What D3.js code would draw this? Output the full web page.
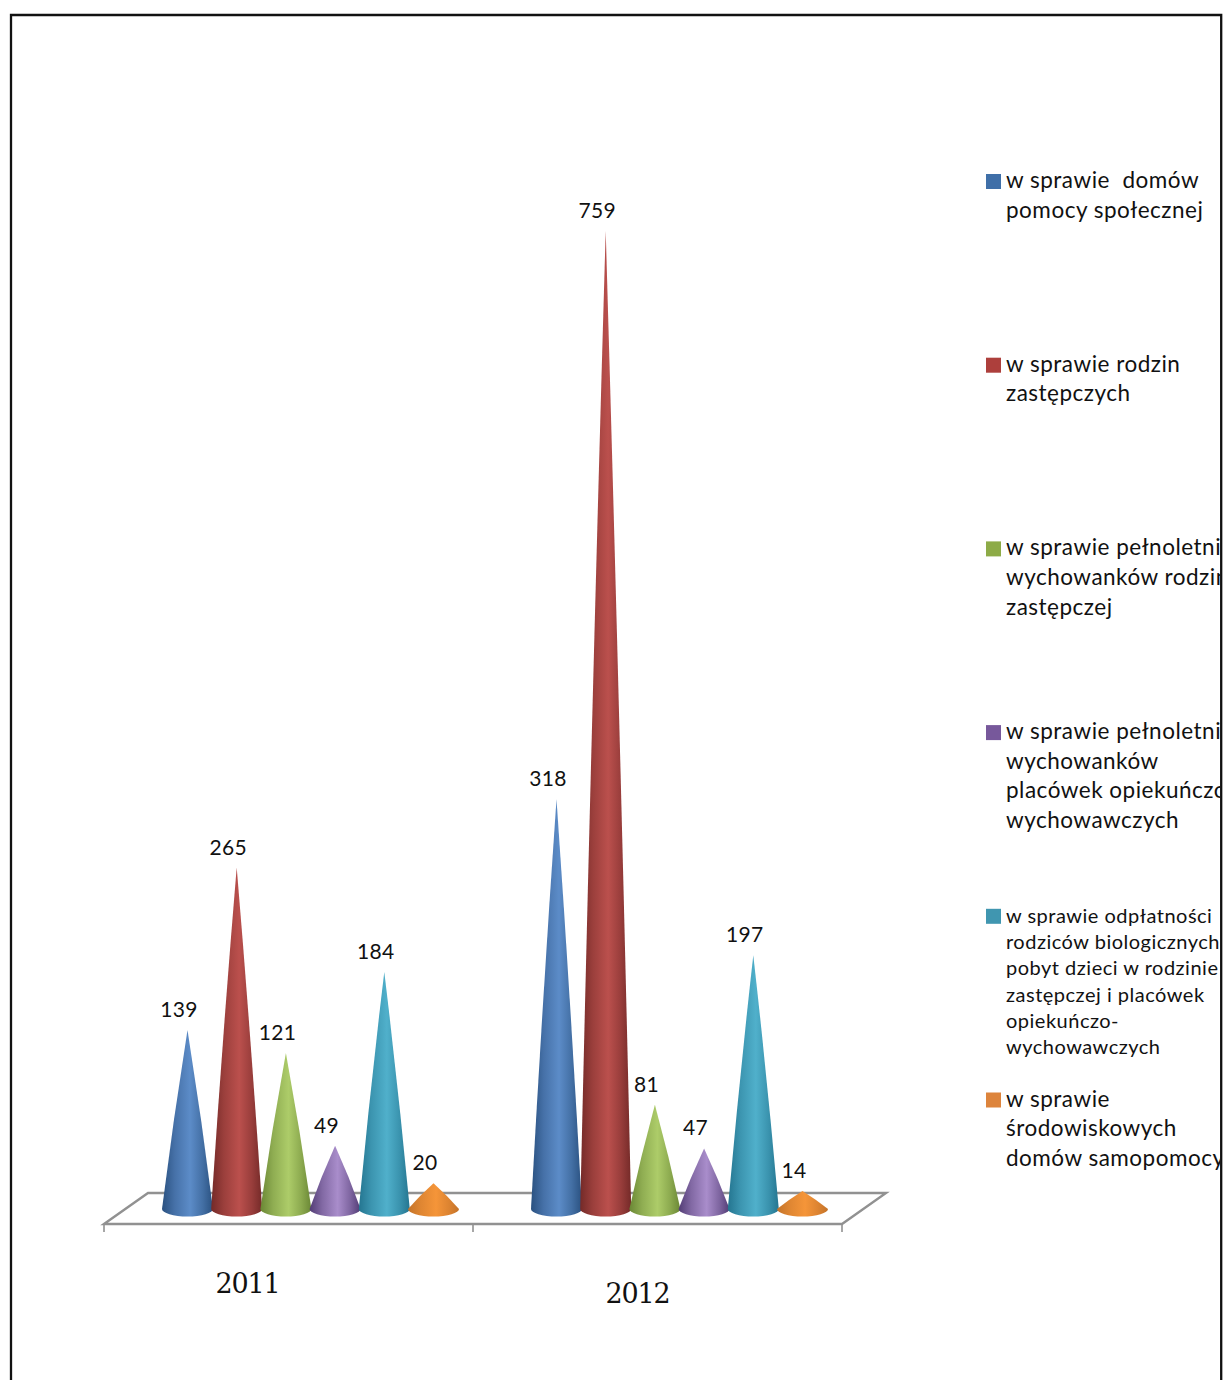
<!DOCTYPE html>
<html><head><meta charset="utf-8">
<script src="https://d3js.org/d3.v7.min.js"></script>
<style>html,body{margin:0;padding:0;background:#fff}svg{display:block}text{font-family:Lato,"Noto Sans",sans-serif;fill:#111;white-space:pre}</style>
</head><body><div id="chart"></div>
<script>
const years = ["2011", "2012"];
const seriesKeys = ["dps", "rodziny", "pelnRodz", "pelnPlac", "odplatnosc", "sds"];
const values2011 = [139, 265, 121, 49, 184, 20];
const values2012 = [318, 759, 81, 47, 197, 14];
const legendLines = [
  ["w sprawie  domów", "pomocy społecznej"],
  ["w sprawie rodzin", "zastępczych"],
  ["w sprawie pełnoletnich", "wychowanków rodziny", "zastępczej"],
  ["w sprawie pełnoletnich", "wychowanków", "placówek opiekuńczo-", "wychowawczych"],
  ["w sprawie odpłatności", "rodziców biologicznych", "pobyt dzieci w rodzinie", "zastępczej i placówek", "opiekuńczo-", "wychowawczych"],
  ["w sprawie", "środowiskowych", "domów samopomocy"]
];
const swatchColors = ["#3f6fa8", "#ad3f3c", "#8dab47", "#77589b", "#4096b0", "#dd843c"];
const edgeColors = ["#2a5180", "#742a28", "#6a8735", "#523c75", "#247590", "#c47329"];
const lightColors = ["#5c8cc8", "#bb504d", "#adcc69", "#a98dcb", "#50b0cb", "#f59539"];

const W = 1225, H = 1380;
const svg = d3.select("#chart").append("svg").attr("width", W).attr("height", H);
const defs = svg.append("defs");
seriesKeys.forEach((k, i) => {
  const g = defs.append("linearGradient").attr("id", "g" + i);
  const mix = d3.interpolateRgb(edgeColors[i], lightColors[i]);
  g.append("stop").attr("offset", "0%").attr("stop-color", edgeColors[i]);
  g.append("stop").attr("offset", "25%").attr("stop-color", mix(0.55));
  g.append("stop").attr("offset", "55%").attr("stop-color", lightColors[i]);
  g.append("stop").attr("offset", "80%").attr("stop-color", mix(0.5));
  g.append("stop").attr("offset", "100%").attr("stop-color", edgeColors[i]);
});
defs.append("clipPath").attr("id", "legendClip").append("rect").attr("x", 0).attr("y", 0).attr("width", 1220).attr("height", H);

// Frame
svg.append("path").attr("d", `M11,${H + 5}V15H1221.2V${H + 5}`).attr("fill", "none").attr("stroke", "#111").attr("stroke-width", 2.3);

// Scales
const y = d3.scaleLinear().domain([0, 759]).range([1209, 231]);
const xFront = d3.scaleBand().domain(years).range([104, 842]);
const depth = 44, floorFront = 1224, floorBack = 1193;
const midShift = depth / 2;
const xSeries = d3.scaleBand().domain(seriesKeys).range([0, xFront.bandwidth()]).paddingInner(0).paddingOuter(0.75);

// Floor
const floor = svg.append("g").attr("fill", "none").attr("stroke", "#919191").attr("stroke-width", 2.4);
floor.append("path").attr("d", `M104,${floorFront}L${104 + depth},${floorBack}H${842 + depth}L842,${floorFront}Z`);
floor.append("g").selectAll("line").data(d3.range(years.length + 1)).join("line")
  .attr("x1", i => 104 + i * xFront.bandwidth()).attr("x2", i => 104 + i * xFront.bandwidth())
  .attr("y1", floorFront).attr("y2", floorFront + 8).attr("stroke-width", 1.6);

// Cones
const rx = 25.5, ry = 7.5;
const rows = years.flatMap((yr, gi) => (gi === 0 ? values2011 : values2012).map((v, si) => ({
  yr, v, si, cx: xFront(yr) + midShift + xSeries(seriesKeys[si]) + xSeries.bandwidth() / 2
})));
const conePath = d => {
  const b = y(0), t = y(d.v);
  const c = 0.56 * rx, m = (b + t) / 2;
  return `M${d.cx},${t}Q${d.cx + c},${m} ${d.cx + rx},${b}A${rx},${ry} 0 0 1 ${d.cx - rx},${b}Q${d.cx - c},${m} ${d.cx},${t}Z`;
};
svg.append("g").selectAll("path").data(rows).join("path")
  .attr("d", conePath).attr("fill", d => `url(#g${d.si})`);

// Value labels
svg.append("g").selectAll("text").data(rows).join("text")
  .attr("x", d => d.cx - 8.5).attr("y", d => y(d.v) - 13)
  .attr("text-anchor", "middle").attr("font-size", 21).attr("letter-spacing", 0.3).text(d => d.v);

// Category labels
const catPos = [[-21 - 31 + 0, 1293], [-31, 1303]];
svg.append("g").selectAll("text").data(years).join("text")
  .attr("x", (d, i) => xFront(d) + xFront.bandwidth() / 2 + midShift / 2 + catPos[i][0])
  .attr("y", (d, i) => catPos[i][1])
  .attr("text-anchor", "middle").attr("font-size", 27).attr("letter-spacing", -1.2)
  .style("font-family", "'DejaVu Serif',serif").text(d => d);

// Legend
const legendY = d3.scalePoint().domain(seriesKeys).range([181.5, 1100]);
const legend = svg.append("g").attr("clip-path", "url(#legendClip)");
seriesKeys.forEach((k, i) => {
  const cy = legendY(k), lines = legendLines[i];
  legend.append("rect").attr("x", 986).attr("y", cy - 7.5).attr("width", 15).attr("height", 15).attr("fill", swatchColors[i]);
  const small = lines.length > 4;
  const fs = small ? 20 : 22.5, lh = small ? 26.3 : 29.6;
  lines.forEach((ln, j) => legend.append("text").attr("x", 1006).attr("y", cy + 6.5 + j * lh)
    .attr("font-size", fs).attr("letter-spacing", 0.5).text(ln));
});
</script></body></html>
